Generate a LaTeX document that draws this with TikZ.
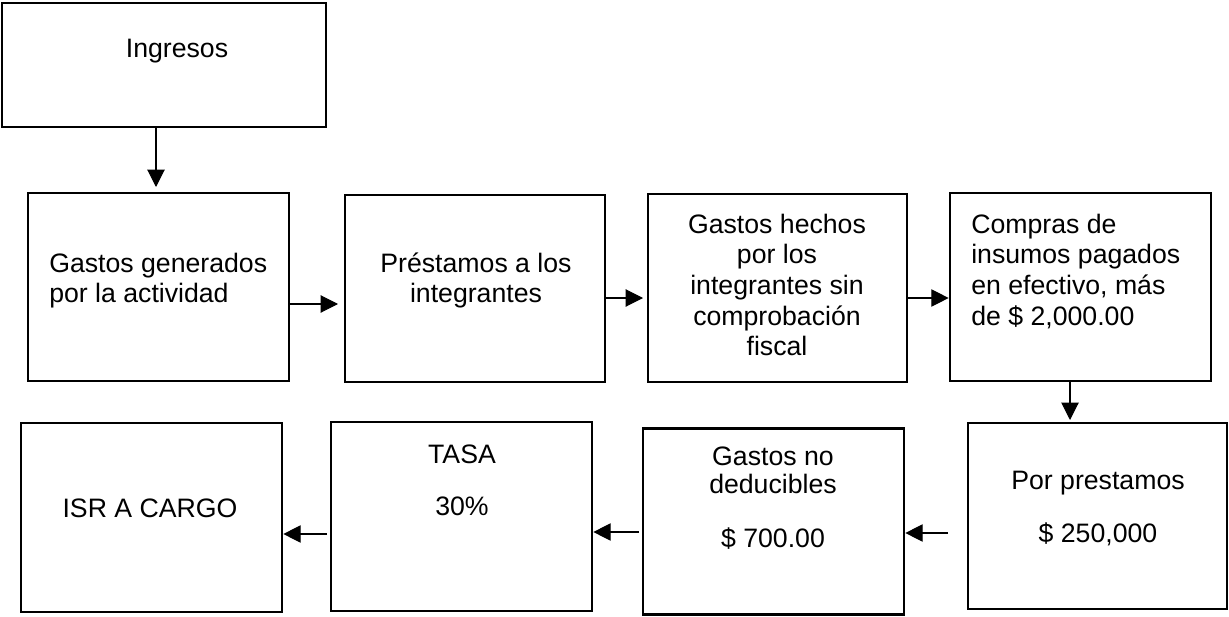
\documentclass[tikz,border=0pt]{standalone}
\usepackage{fontspec}
\setmainfont{Liberation Sans}
\usetikzlibrary{arrows.meta}
\begin{document}
\begin{tikzpicture}[x=0.75pt,y=-0.75pt,
  box/.style={draw=black,line width=2pt,rectangle,inner sep=0pt},
  txt/.style={inner sep=0pt,anchor=north,align=center,font=\fontsize{20}{23}\selectfont},
  txtl/.style={txt,anchor=north west,align=left},
  arr/.style={line width=0.8pt,-{Triangle[length=13pt,width=13pt]}}]
\useasboundingbox (0,0) rectangle (1229,617);
\newcommand{\fl}{\rule{0pt}{20pt}}
% boxes
\node[box,minimum width=324*0.75pt,minimum height=124*0.75pt] (b1) at (164,65) {};
\node[box,minimum width=261*0.75pt,minimum height=188*0.75pt] (b2) at (158.5,287) {};
\node[box,minimum width=260*0.75pt,minimum height=187*0.75pt] (b3) at (475,288.5) {};
\node[box,minimum width=259*0.75pt,minimum height=188*0.75pt] (b4) at (777.5,288) {};
\node[box,minimum width=261*0.75pt,minimum height=188*0.75pt] (b5) at (1080.5,287) {};
\node[box,minimum width=259*0.75pt,minimum height=186*0.75pt] (b6) at (1097.5,516) {};
\node[box,minimum width=261*0.75pt,minimum height=186*0.75pt] (b7) at (773.5,521.5) {};
\node[box,minimum width=261*0.75pt,minimum height=189*0.75pt] (b8) at (461.5,516.5) {};
\node[box,minimum width=261*0.75pt,minimum height=189*0.75pt] (b9) at (151.5,517.5) {};
% texts (top = first baseline - 26.67px)
\node[txt] (t1) at (177,30.3) {\fl Ingresos};
\node[txtl] (t2) at (49,245.3) {\fl Gastos generados\\por la actividad};
\node[txt] (t3) at (476,245.3) {\fl Préstamos a los\\integrantes};
\node[txt] (t4) at (777,206.3) {\fl Gastos hechos\\por los\\integrantes sin\\comprobación\\fiscal};
\node[txtl] (t5) at (971,206.3) {\fl Compras de\\insumos pagados\\en efectivo, más\\de \$ 2,000.00};
\node[txt] (t6) at (1098,462.3) {\fl Por prestamos\\[17pt]\$ 250,000};
\node[txt,font=\fontsize{20}{21}\selectfont] (t7) at (773,438.3) {\fl Gastos no\\deducibles\\[19.5pt]\$ 700.00};
\node[txt] (t8) at (462,436.3) {\fl TASA\\[16pt]30\%};
\node[txt] (t9) at (150,490.3) {\fl ISR A CARGO};
% connector end points
\coordinate (e1) at (156,187);
\coordinate (e23) at (338,304);
\coordinate (e34) at (643,298);
\coordinate (e45) at (950,298);
\coordinate (e56) at (1070,420);
\coordinate (s67) at (948,533);
\coordinate (s78) at (639,532);
\coordinate (s89) at (327,534);
% connectors
\draw[arr] (b1.south -| e1) -- (e1);
\draw[arr] (b2.east |- e23) -- (e23);
\draw[arr] (b3.east |- e34) -- (e34);
\draw[arr] (b4.east |- e45) -- (b5.west |- e45);
\draw[arr] (b5.south -| e56) -- (e56);
\draw[arr] (s67) -- (b7.east |- s67);
\draw[arr] (s78) -- (b8.east |- s78);
\draw[arr] (s89) -- (b9.east |- s89);
\end{tikzpicture}
\end{document}
